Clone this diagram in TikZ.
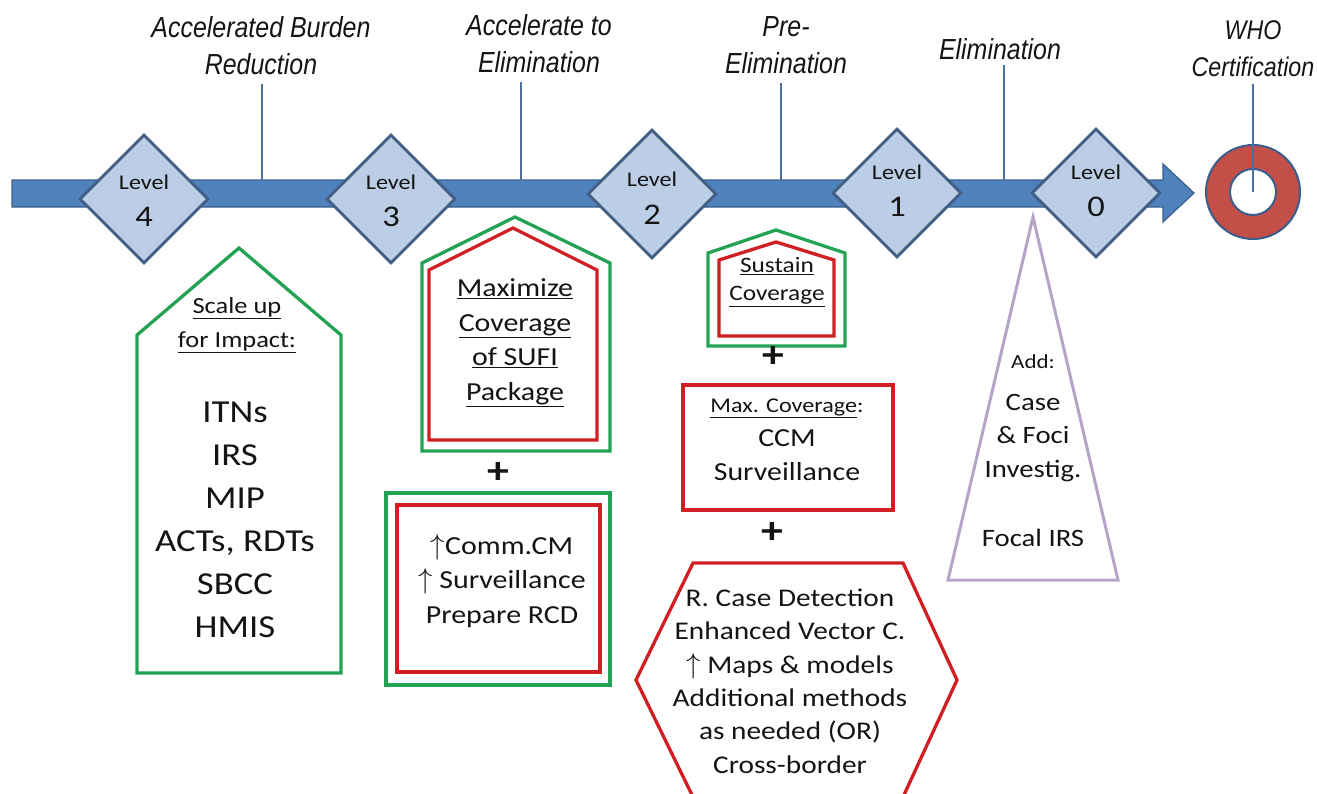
\documentclass[tikz,border=0pt]{standalone}
\usepackage{fontspec}
\setmainfont[FakeStretch=1.15]{Carlito}
\newfontfamily\ttlfont[FakeStretch=0.86]{Liberation Sans}
\usetikzlibrary{shapes.geometric}
\definecolor{barblue}{RGB}{79,129,189}
\definecolor{barline}{RGB}{58,94,140}
\definecolor{dmfill}{RGB}{187,206,230}
\definecolor{dmline}{RGB}{66,94,132}
\definecolor{tickblue}{RGB}{78,112,160}
\definecolor{okgreen}{RGB}{36,162,84}
\definecolor{stopred}{RGB}{208,30,34}
\definecolor{lav}{RGB}{180,164,200}
\definecolor{ringred}{RGB}{196,78,72}
\newcommand{\upArr}{\scalebox{1.15}{$\uparrow$}}

\begin{document}
\begin{tikzpicture}[x=1pt,y=-1pt,
  every node/.style={inner sep=2pt,align=center,text=black!92},
  ttl/.style={font=\ttlfont\itshape\fontsize{29}{37}\selectfont},
  tick/.style={draw=tickblue,line width=1.8pt,shorten >=7pt},
  lvlbox/.style={diamond,draw=dmline,fill=dmfill,line width=2.8pt,minimum width=129pt,minimum height=129pt,inner sep=0pt},
  lvltop/.style={font=\fontsize{21}{24}\selectfont},
  lvlnum/.style={font=\fontsize{30}{36}\selectfont},
  greenline/.style={draw=okgreen,line width=3.3pt,line join=miter},
  redline/.style={draw=stopred,line width=3.3pt,line join=miter},
  headtxt/.style={font=\fontsize{23}{34}\selectfont},
  bigtxt/.style={font=\fontsize{32}{43}\selectfont},
  midtxt/.style={font=\fontsize{26}{34.5}\selectfont},
  smalltxt/.style={font=\fontsize{22}{28}\selectfont},
  plus/.style={font=\bfseries\fontsize{38}{40}\selectfont,inner sep=0pt}]
\useasboundingbox (0,0) rectangle (1317,793);

% timeline
\draw[draw=barline,fill=barblue,line width=1.2pt] (12,180) -- (1163,180) -- (1163,164) -- (1194,193) -- (1163,222) -- (1163,207) -- (12,207) -- cycle;

\node[ttl] (ttlA) at (261,46) {Accelerated Burden\\Reduction};
\node[ttl] (ttlB) at (539,44) {Accelerate to\\Elimination};
\node[ttl] (ttlC) at (786,45) {Pre-\\Elimination};
\node[ttl] (ttlD) at (1000,49) {Elimination};
\node[ttl,font=\ttlfont\itshape\fontsize{27}{37}\selectfont] (ttlE) at (1253,49) {WHO\\Certification};

\coordinate (tA) at (262,180);
\coordinate (tB) at (521,180);
\coordinate (tC) at (781,180);
\coordinate (tD) at (1004,180);
\draw[tick] (tA) -- (tA |- ttlA.south);
\draw[tick] (tB) -- (tB |- ttlB.south);
\draw[tick] (tC) -- (tC |- ttlC.south);
\draw[tick,shorten >=3pt] (tD) -- (tD |- ttlD.south);

\node[circle,fill=ringred,draw=barline,line width=2pt,minimum size=94pt] (ring) at (1253,192) {};
\node[circle,fill=white,draw=barline,line width=2pt,minimum size=46pt] (hole) at (ring.center) {};
\draw[tick,shorten >=5pt] (hole.center) -- (hole.center |- ttlE.south);

\foreach \n/\x/\y/\ya/\yb in {4/144/199/182/217, 3/391/199/182/217, 2/652/194/179/215, 1/897/193/172/207, 0/1096/193/172/207}{
  \node[lvlbox] (lv\n) at (\x,\y) {};
  \node[lvltop] (lvtop\n) at (\x,\ya) {Level};
  \node[lvlnum] (lvnum\n) at (\x,\yb) {\n};
}

% level 4
\draw[greenline] (137,673) -- (137,335) -- (239,248) -- (341,335) -- (341,673) -- cycle;
\node[headtxt] (suHead) at (237,325) {\underline{Scale up}\\\underline{for Impact:}};
\node[bigtxt] (suList) at (235,520) {ITNs\\IRS\\MIP\\ACTs, RDTs\\SBCC\\HMIS};

% level 3
\draw[greenline] (422,451) -- (422,263) -- (515,217) -- (610,263) -- (610,451) -- cycle;
\draw[redline] (429,440) -- (429,270) -- (513,228) -- (597,270) -- (597,440) -- cycle;
\node[midtxt] (maxPk) at (515,343) {\underline{Maximize}\\\underline{Coverage}\\\underline{of SUFI}\\\underline{Package}};
\node[plus] (plusA) at (498,473) {+};
\draw[greenline] (386,493) rectangle (610,685);
\draw[redline] (397,505) rectangle (600,672);
\node[midtxt] (commCM) at (502,581) {\upArr Comm.CM\\\upArr{} Surveillance\\Prepare RCD};

% level 2
\draw[greenline] (708,346) -- (708,253) -- (776,230) -- (845,253) -- (845,346) -- cycle;
\draw[redline] (719,336) -- (719,260) -- (776,242) -- (834,260) -- (834,336) -- cycle;
\node[smalltxt] (sustain) at (777,282) {\underline{Sustain}\\\underline{Coverage}};
\node[plus] (plusB) at (773,357) {+};
\draw[redline] (683,385) rectangle (893,510);
\node[font=\fontsize{21}{26}\selectfont] (maxHead) at (787,408) {\underline{Max. Coverage}:};
\node[midtxt] (maxBody) at (787,455) {CCM\\Surveillance};
\node[plus] (plusC) at (772,533) {+};
\draw[redline] (693,563) -- (903,563) -- (957,680) -- (903,797) -- (693,797) -- (636,680) -- cycle;
\node[font=\fontsize{25.5}{33.4}\selectfont] (rcdList) at (790,681) {R. Case Detection\\Enhanced Vector C.\\\upArr{} Maps \& models\\Additional methods\\as needed (OR)\\Cross-border};

% level 1 to 0
\draw[draw=lav,line width=3pt,line join=miter] (1033,217) -- (1118,580) -- (948,580) -- cycle;
\node[font=\fontsize{20}{24}\selectfont] (addHd) at (1033,362) {Add:};
\node[font=\fontsize{25}{33.5}\selectfont] (foci) at (1033,438) {Case\\\& Foci\\Investig.};
\node[font=\fontsize{25}{30}\selectfont] (focal) at (1033,538) {Focal IRS};
\end{tikzpicture}
\end{document}
